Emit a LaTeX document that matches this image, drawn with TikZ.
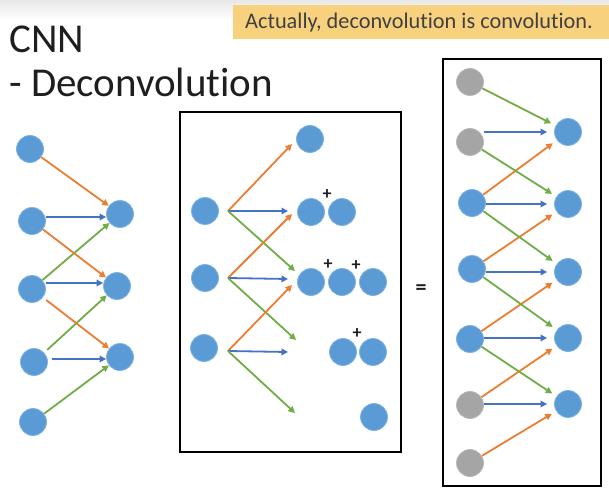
\documentclass[tikz,border=0pt]{standalone}
\usepackage{fontspec}
\setmainfont{Carlito}[RawFeature={-liga;-clig;-calt;-dlig}]
\usetikzlibrary{arrows.meta}
\newcommand{\tI}{t\kern0pt i}
\definecolor{cblue}{HTML}{5B9BD5}
\definecolor{cblueline}{HTML}{7FB2E0}
\definecolor{cgray}{HTML}{A5A5A5}
\definecolor{cgrayline}{HTML}{B8B8B8}
\definecolor{aorange}{HTML}{ED7D31}
\definecolor{ablue}{HTML}{4472C4}
\definecolor{agreen}{HTML}{70AD47}
\definecolor{banner}{HTML}{F8D17E}
\definecolor{ink}{HTML}{1E1E1E}
\begin{document}
\begin{tikzpicture}[x=1pt,y=-1pt,
  bc/.style={circle, fill=cblue, draw=cblueline, line width=0.8pt, minimum size=27pt, inner sep=0pt},
  gc/.style={circle, fill=cgray, draw=cgrayline, line width=0.8pt, minimum size=27pt, inner sep=0pt},
  arr/.style={line width=1.8pt, -{Triangle[length=6.5pt,width=6.5pt]}},
  oa/.style={arr, aorange},
  ba/.style={arr, ablue},
  ga/.style={arr, agreen},
  frame/.style={draw=black, line width=2.5pt},
  plus/.style={font=\fontsize{18}{18}\selectfont\bfseries, text=ink, inner sep=0pt}
]
\useasboundingbox (0,0) rectangle (609,497);
\fill[white] (0,0) rectangle (609,497);
\fill[top color=black!9, bottom color=white] (0,0) rectangle (609,20);

% banner and title
\fill[banner] (233,5) rectangle (609,39);
\node[anchor=base west, inner sep=0pt, text=ink!85, font=\fontsize{22.3}{24}\selectfont] (bantext) at (245,29) {Actually, deconvolu\tI on is convolu\tI on.};
\node[anchor=base west, inner sep=0pt, text=ink, font=\fontsize{41}{44}\selectfont] (t1) at (9,53) {CNN};
\node[anchor=base west, inner sep=0pt, text=ink, font=\fontsize{41}{44}\selectfont] (t2) at (9,97) {- Deconvolu\tI on};

% ---------- left part ----------
\node[bc] (a1) at (30,149) {};
\node[bc] (a2) at (32,221) {};
\node[bc] (a3) at (32,289) {};
\node[bc] (a4) at (34,362) {};
\node[bc] (a5) at (33,422) {};
\node[bc] (b1) at (120,214) {};
\node[bc] (b2) at (117,286) {};
\node[bc] (b3) at (120,357) {};
\draw[oa] (a1) -- (b1);
\draw[ba] ([yshift=4pt]a2.east) -- ([yshift=-3pt]b1.west);
\draw[ga] (a3) -- (b1);
\draw[oa] (a2) -- (b2);
\draw[ba] ([yshift=6pt]a3.east) -- ([yshift=3pt]b2.west);
\draw[ga, shorten <=4pt] (a4) -- (b2);
\draw[oa, shorten <=4pt] (a3) -- (b3);
\draw[ba] ([xshift=4pt,yshift=3pt]a4.east) -- ([yshift=-2pt]b3.west);
\draw[ga] (a5) -- (b3);

% ---------- middle box ----------
\draw[frame] (180,112) rectangle (401,452);
\node[bc] (m1) at (205,211) {};
\node[bc] (m2) at (205,278) {};
\node[bc] (m3) at (204,348) {};
\coordinate (o1) at (228,211);
\coordinate (o2) at (228,278);
\coordinate (o3) at (228,351);
\coordinate (e1o) at (292,144);
\coordinate (e1b) at (288,211);
\coordinate (e1g) at (295,271);
\coordinate (e2o) at (292,214);
\coordinate (e2b) at (288,279);
\coordinate (e2g) at (296,340);
\coordinate (e3o) at (292,285);
\coordinate (e3b) at (288,352);
\coordinate (e3g) at (295,413);
\draw[oa] (o1) -- (e1o);
\draw[ba] (o1) -- (e1b);
\draw[ga] (o1) -- (e1g);
\draw[oa] (o2) -- (e2o);
\draw[ba] (o2) -- (e2b);
\draw[ga] (o2) -- (e2g);
\draw[oa] (o3) -- (e3o);
\draw[ba] (o3) -- (e3b);
\draw[ga] (o3) -- (e3g);
\node[bc] (n1) at (310,139) {};
\node[bc] (n21) at (311,212) {};
\node[bc] (n22) at (342,212) {};
\node[bc] (n31) at (311,282) {};
\node[bc] (n32) at (342,282) {};
\node[bc] (n33) at (373,282) {};
\node[bc] (n41) at (343,352) {};
\node[bc] (n42) at (373,352) {};
\node[bc] (n51) at (374,417) {};
\node[plus] (p1) at (327,195) {+};
\node[plus] (p2) at (328,265) {+};
\node[plus] (p3) at (356,266) {+};
\node[plus] (p4) at (357,334) {+};

% equals sign
\node[font=\fontsize{22}{22}\selectfont\bfseries, text=ink, inner sep=0pt] (eq) at (421,290) {=};

% ---------- right box ----------
\draw[frame] (443,59) rectangle (601,486);
\node[gc] (r1) at (470,82) {};
\node[gc] (r2) at (470,142) {};
\node[bc] (r3) at (472,203) {};
\node[bc] (r4) at (472,269) {};
\node[bc] (r5) at (470,339) {};
\node[gc] (r6) at (470,405) {};
\node[gc] (r7) at (470,463) {};
\node[bc] (s1) at (568,132) {};
\node[bc] (s2) at (568,204) {};
\node[bc] (s3) at (568,272) {};
\node[bc] (s4) at (568,338) {};
\node[bc] (s5) at (568,404) {};
\foreach \k/\m/\n in {1/2/3, 2/3/4, 3/4/5, 4/5/6, 5/6/7}{
  \draw[ga, shorten >=5pt] (r\k) -- (s\k);
  \draw[ba] (r\m.east |- s\k.center) -- ([xshift=-7pt]s\k.west);
  \draw[oa, shorten >=5pt] (r\n) -- (s\k);
}
\end{tikzpicture}
\end{document}
